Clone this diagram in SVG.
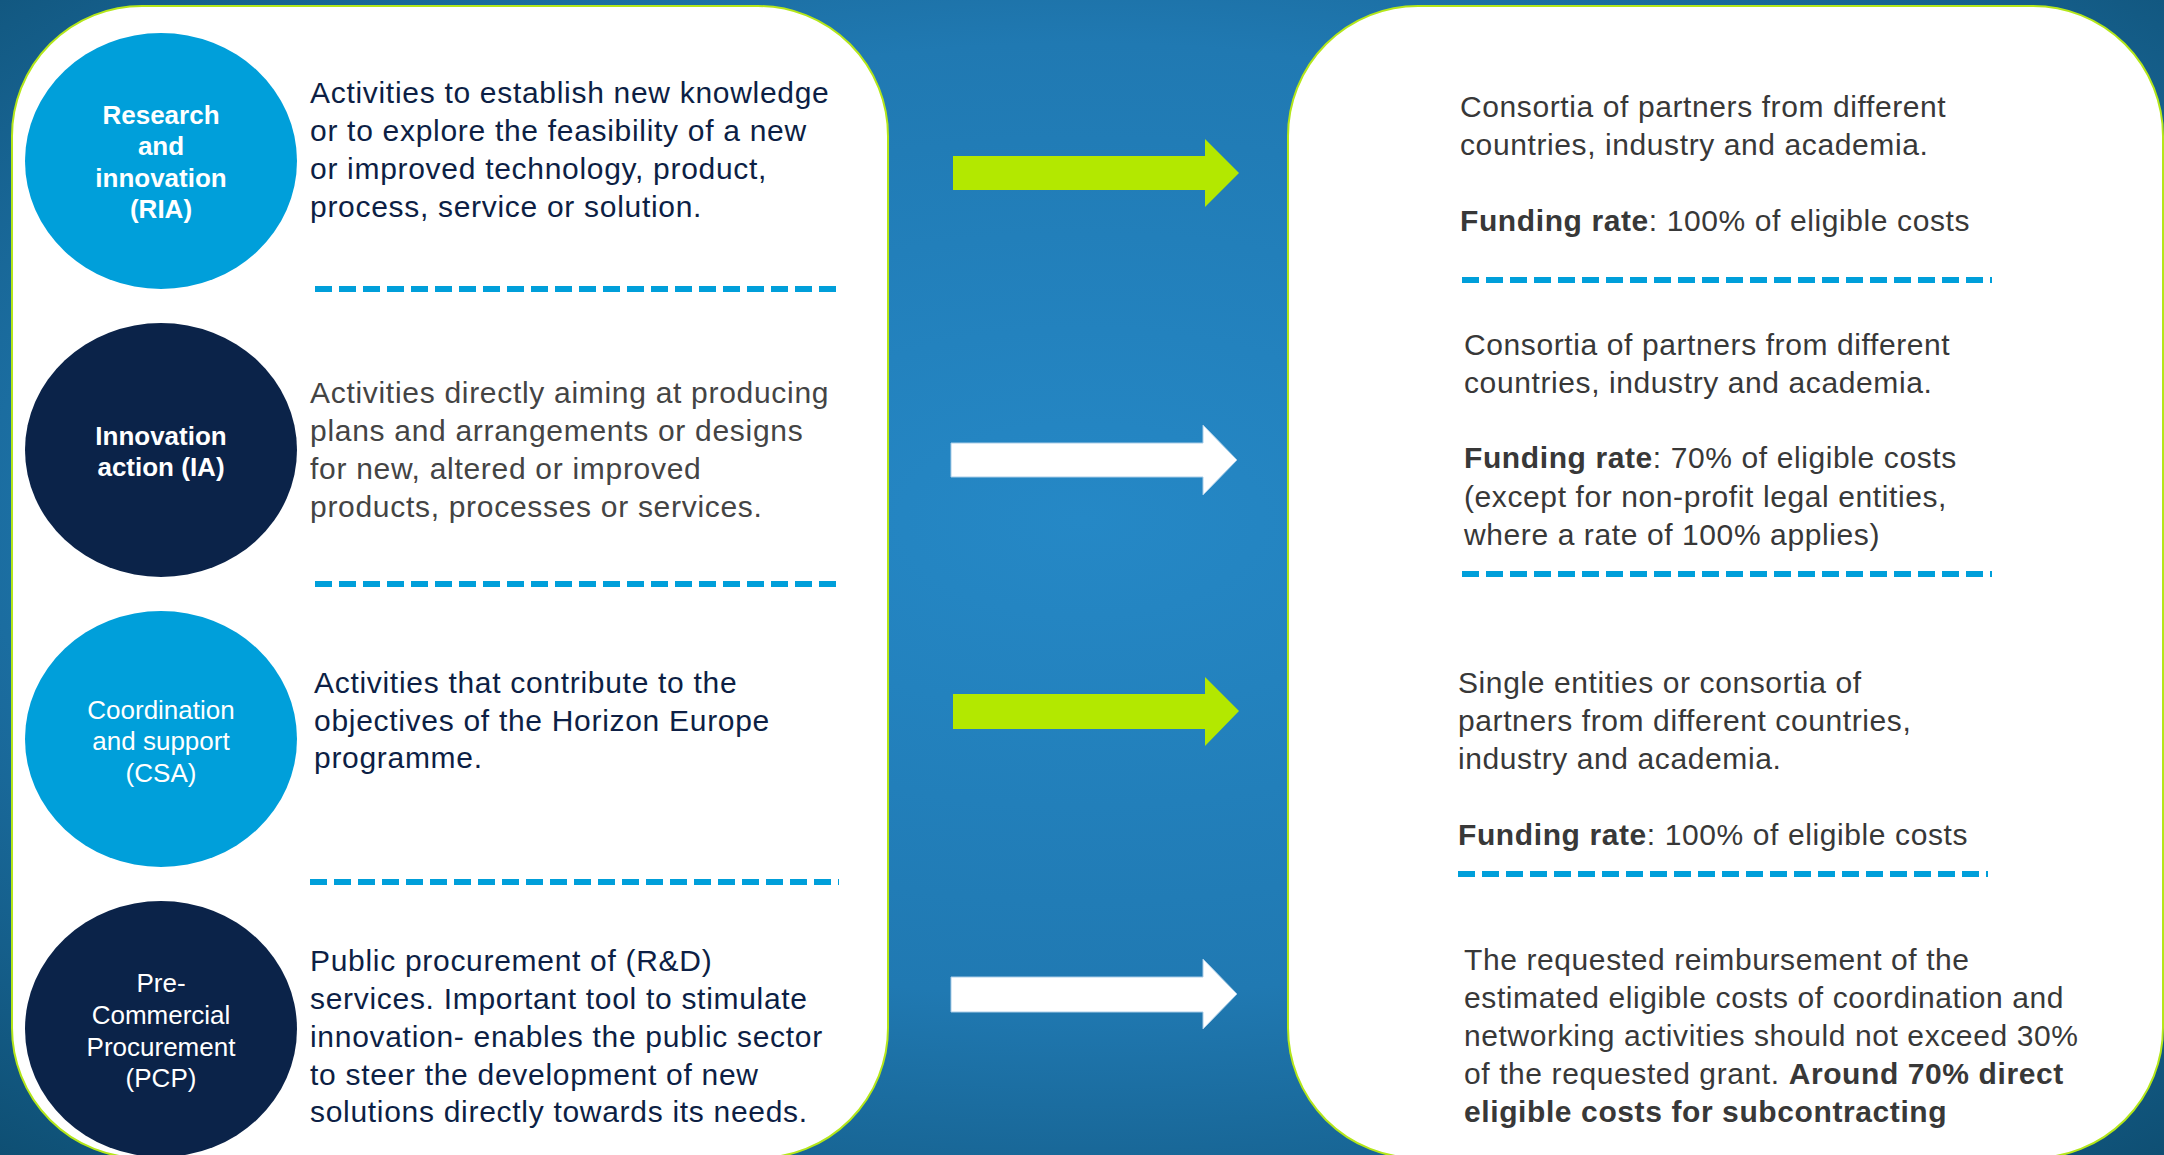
<svg xmlns="http://www.w3.org/2000/svg" width="2164" height="1155" viewBox="0 0 2164 1155">
<defs>
<radialGradient id="bg" cx="50%" cy="45%" r="75%">
<stop offset="0" stop-color="#2588c6"/>
<stop offset="0.55" stop-color="#2079b2"/>
<stop offset="1" stop-color="#0e4e72"/>
</radialGradient>
<style>
.panel{fill:#ffffff;stroke:#b4e61a;stroke-width:2}
.c-light{fill:#009fda}
.c-dark{fill:#0b2349}
.ctxt{font-family:'Liberation Sans',Arial,sans-serif;font-size:26px;fill:#ffffff;text-anchor:middle}
.b{font-weight:bold}
.desc{font-family:'Liberation Sans',Arial,sans-serif;font-size:30px;letter-spacing:0.7px}
.navy{fill:#0d1f45}
.gray{fill:#444444}
.rt{font-family:'Liberation Sans',Arial,sans-serif;font-size:30px;letter-spacing:0.6px;fill:#383838}
.dash{stroke:#009fda;stroke-width:6;stroke-dasharray:17 7;fill:none}
.ag{fill:#b3e800}
.aw{fill:#ffffff;stroke:#a9cde8;stroke-width:1}
</style>
</defs>
<rect x="0" y="0" width="2164" height="1155" fill="url(#bg)"/>
<rect id="left-panel" class="panel" x="12" y="6" width="876" height="1152" rx="130" ry="130"/>
<rect id="right-panel" class="panel" x="1288" y="6" width="875" height="1152" rx="130" ry="130"/>

<g id="ria">
<ellipse class="c-light" cx="161" cy="161" rx="136" ry="128"/>
<text class="ctxt b" x="161"><tspan x="161" y="124">Research</tspan><tspan x="161" y="155">and</tspan><tspan x="161" y="187">innovation</tspan><tspan x="161" y="218">(RIA)</tspan></text>
<text class="desc navy" x="310"><tspan x="310" y="103">Activities to establish new knowledge</tspan><tspan x="310" y="141">or to explore the feasibility of a new</tspan><tspan x="310" y="179">or improved technology, product,</tspan><tspan x="310" y="217">process, service or solution.</tspan></text>
<line class="dash" x1="315" y1="289" x2="843" y2="289"/>
</g>

<g id="ia">
<ellipse class="c-dark" cx="161" cy="450" rx="136" ry="127"/>
<text class="ctxt b" x="161"><tspan x="161" y="445">Innovation</tspan><tspan x="161" y="476">action (IA)</tspan></text>
<text class="desc gray" x="310"><tspan x="310" y="403">Activities directly aiming at producing</tspan><tspan x="310" y="441">plans and arrangements or designs</tspan><tspan x="310" y="479">for new, altered or improved</tspan><tspan x="310" y="517">products, processes or services.</tspan></text>
<line class="dash" x1="315" y1="584" x2="843" y2="584"/>
</g>

<g id="csa">
<ellipse class="c-light" cx="161" cy="739" rx="136" ry="128"/>
<text class="ctxt" x="161"><tspan x="161" y="719">Coordination</tspan><tspan x="161" y="750">and support</tspan><tspan x="161" y="782">(CSA)</tspan></text>
<text class="desc navy" x="314"><tspan x="314" y="693">Activities that contribute to the</tspan><tspan x="314" y="731">objectives of the Horizon Europe</tspan><tspan x="314" y="768">programme.</tspan></text>
<line class="dash" x1="310" y1="882" x2="839" y2="882"/>
</g>

<g id="pcp">
<ellipse class="c-dark" cx="161" cy="1029" rx="136" ry="128"/>
<text class="ctxt" x="161"><tspan x="161" y="992">Pre-</tspan><tspan x="161" y="1024">Commercial</tspan><tspan x="161" y="1056">Procurement</tspan><tspan x="161" y="1087">(PCP)</tspan></text>
<text class="desc navy" x="310"><tspan x="310" y="971">Public procurement of (R&amp;D)</tspan><tspan x="310" y="1009">services. Important tool to stimulate</tspan><tspan x="310" y="1047">innovation- enables the public sector</tspan><tspan x="310" y="1085">to steer the development of new</tspan><tspan x="310" y="1122">solutions directly towards its needs.</tspan></text>
</g>

<g id="connectors">
<polygon class="ag" points="953,156 1205,156 1205,139 1239,173 1205,207 1205,190 953,190"/>
<polygon class="aw" points="951,443 1203,443 1203,425 1237,460 1203,495 1203,477 951,477"/>
<polygon class="ag" points="953,694 1205,694 1205,677 1239,711 1205,746 1205,729 953,729"/>
<polygon class="aw" points="951,977 1203,977 1203,959 1237,994 1203,1029 1203,1012 951,1012"/>
</g>

<g id="ria-funding">
<text class="rt" x="1460"><tspan x="1460" y="117">Consortia of partners from different</tspan><tspan x="1460" y="155">countries, industry and academia.</tspan></text>
<text class="rt" x="1460" y="231"><tspan class="b">Funding rate</tspan>: 100% of eligible costs</text>
<line class="dash" x1="1462" y1="280" x2="1992" y2="280"/>
</g>

<g id="ia-funding">
<text class="rt" x="1464"><tspan x="1464" y="355">Consortia of partners from different</tspan><tspan x="1464" y="393">countries, industry and academia.</tspan></text>
<text class="rt" x="1464"><tspan x="1464" y="468"><tspan class="b">Funding rate</tspan>: 70% of eligible costs</tspan><tspan x="1464" y="507">(except for non-profit legal entities,</tspan><tspan x="1464" y="545">where a rate of 100% applies)</tspan></text>
<line class="dash" x1="1462" y1="574" x2="1992" y2="574"/>
</g>

<g id="csa-funding">
<text class="rt" x="1458"><tspan x="1458" y="693">Single entities or consortia of</tspan><tspan x="1458" y="731">partners from different countries,</tspan><tspan x="1458" y="769">industry and academia.</tspan></text>
<text class="rt" x="1458" y="845"><tspan class="b">Funding rate</tspan>: 100% of eligible costs</text>
<line class="dash" x1="1458" y1="874" x2="1988" y2="874"/>
</g>

<g id="pcp-funding">
<text class="rt" x="1464"><tspan x="1464" y="970">The requested reimbursement of the</tspan><tspan x="1464" y="1008">estimated eligible costs of coordination and</tspan><tspan x="1464" y="1046">networking activities should not exceed 30%</tspan><tspan x="1464" y="1084">of the requested grant. <tspan class="b">Around 70% direct</tspan></tspan><tspan x="1464" y="1122" class="b">eligible costs for subcontracting</tspan></text>
</g>
</svg>
